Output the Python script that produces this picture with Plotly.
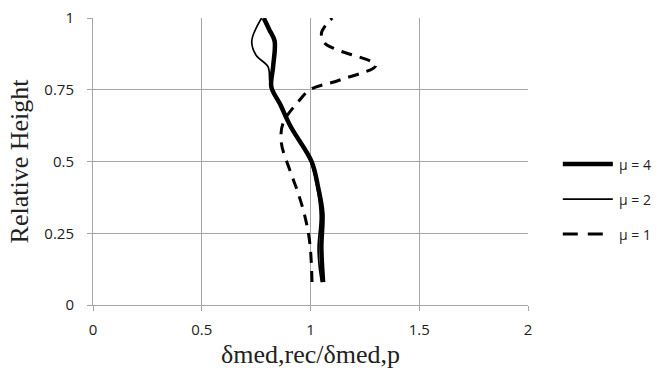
import plotly.graph_objects as go

# Relative height profiles of the median ratio for three mu values
mu4_height = [0.08, 0.20, 0.32, 0.41, 0.50, 0.62, 0.70, 0.76, 0.83, 0.92, 0.96, 1.00]
mu4_ratio = [1.058, 1.050, 1.055, 1.035, 1.005, 0.91, 0.86, 0.82, 0.828, 0.835, 0.81, 0.785]

mu2_height = [0.08, 0.134, 0.20, 0.31, 0.41, 0.50, 0.62, 0.70, 0.77, 0.83, 0.87, 0.92, 1.00]
mu2_ratio = [1.05, 1.04, 1.035, 1.045, 1.03, 1.0, 0.91, 0.86, 0.815, 0.805, 0.75, 0.73, 0.775]

mu1_height = [0.08, 0.215, 0.31, 0.39, 0.47, 0.565, 0.634, 0.714, 0.75, 0.784, 0.835, 0.89, 0.912, 0.946, 0.975, 1.00]
mu1_ratio = [1.007, 0.997, 0.974, 0.943, 0.905, 0.866, 0.874, 0.95, 0.997, 1.135, 1.30, 1.12, 1.066, 1.05, 1.07, 1.10]

series_names = ["\u03bc = 4", "\u03bc = 2", "\u03bc = 1"]

x_ticks = [0, 0.5, 1, 1.5, 2]
y_ticks = [0, 0.25, 0.5, 0.75, 1]

# line styles per series: (width, dash)
styles = [(4.5, "solid"), (1.7, "solid"), (3, "11px,8px")]
series = [(mu4_ratio, mu4_height), (mu2_ratio, mu2_height), (mu1_ratio, mu1_height)]

fig = go.Figure()
for (xs, ys), name, (w, d) in zip(series, series_names, styles):
    fig.add_trace(go.Scatter(x=xs, y=ys, name=name, mode="lines", showlegend=False,
                             line=dict(color="black", width=w, dash=d, shape="spline", smoothing=1)))

# Legend drawn to the right of the plot area (paper coordinates)
legend_rows = [0.491, 0.369, 0.247]
legend_dash = ["solid", "solid", "15px,10px"]
for row_y, name, (w, _), d in zip(legend_rows, series_names, styles, legend_dash):
    x1 = 1.195 if d == "solid" else 1.172
    fig.add_shape(type="line", xref="paper", yref="paper", x0=1.08, x1=x1, y0=row_y, y1=row_y,
                  line=dict(color="black", width=w, dash=d))
    fig.add_annotation(xref="paper", yref="paper", x=1.205, y=row_y, text=name, showarrow=False,
                       xanchor="left", yanchor="middle",
                       font=dict(family="Open Sans, Liberation Sans, sans-serif", size=14, color="#222"))

tick_font = dict(family="Open Sans, Liberation Sans, sans-serif", size=15, color="#222")
title_font = dict(family="Liberation Serif, Times New Roman, serif", size=26, color="#222")

fig.update_layout(
    width=660, height=376,
    margin=dict(l=93, r=132, t=18, b=71, autoexpand=False),
    paper_bgcolor="white", plot_bgcolor="white",
    showlegend=False,
    xaxis=dict(range=[0, 2], tickvals=x_ticks, ticktext=[str(v) for v in x_ticks],
               showgrid=True, gridcolor="#a6a6a6", gridwidth=1,
               showline=True, linecolor="#a6a6a6", linewidth=1,
               ticks="outside", ticklen=5, tickcolor="#a6a6a6",
               ticklabelstandoff=6, automargin=False,
               tickfont=tick_font, zeroline=False,
               title=dict(text="\u03b4med,rec/\u03b4med,p", font=title_font, standoff=6)),
    yaxis=dict(range=[0, 1], tickvals=y_ticks, ticktext=["0", "0.25", "0.5", "0.75", "1"],
               showgrid=True, gridcolor="#a6a6a6", gridwidth=1,
               showline=True, linecolor="#a6a6a6", linewidth=1,
               ticks="outside", ticklen=5, tickcolor="#a6a6a6",
               ticklabelstandoff=10, automargin=False,
               tickfont=tick_font, zeroline=False,
               title=dict(text="Relative Height", font=title_font, standoff=8)),
)

fig.write_html("out.html")
